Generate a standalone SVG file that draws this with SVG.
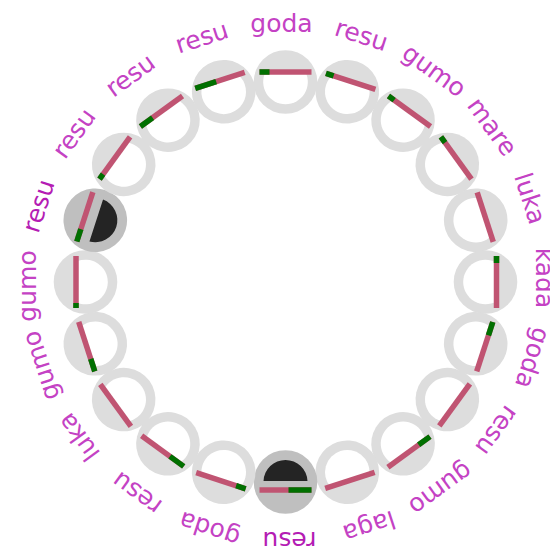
<svg xmlns="http://www.w3.org/2000/svg" width="550" height="550" viewBox="0 0 550 550">
<style>
.disk{fill:#dddddd}
.dk{fill:#bfbfbf}
.hole{fill:#ffffff}
.blk{fill:#242424}
.pk{stroke:#c05472;stroke-width:5.5;fill:none}
.gr{stroke:#007000;stroke-width:5.5;fill:none}
.lb{font-family:"DejaVu Sans",sans-serif;font-size:25px;fill:#c442c4;text-anchor:middle}
.hl{fill:#b41cb4}
</style>
<rect width="550" height="550" fill="#ffffff"/>
<g id="connectors"/>
<g id="n0" transform="rotate(0 285.5 282)"><g transform="translate(285.5 82)"><circle r="31.8" class="disk"/><path class="hole" d="M-19.93,-10 L19.93,-10 A22.3,22.3 0 1,1 -19.93,-10 Z"/><line class="pk" x1="-26" y1="-10" x2="26" y2="-10"/><line class="gr" x1="-26" y1="-10" x2="-16" y2="-10"/></g><text class="lb" x="281.5" y="32">goda</text></g>
<g id="n1" transform="rotate(18 285.5 282)"><g transform="translate(285.5 82)"><circle r="31.8" class="disk"/><path class="hole" d="M-19.4,-11 L19.4,-11 A22.3,22.3 0 1,1 -19.4,-11 Z"/><line class="pk" x1="-26" y1="-11" x2="26" y2="-11"/><line class="gr" x1="-26" y1="-11" x2="-18" y2="-11"/></g><text class="lb" x="281.5" y="32">resu</text></g>
<g id="n2" transform="rotate(36 285.5 282)"><g transform="translate(285.5 82)"><circle r="31.8" class="disk"/><path class="hole" d="M-19.4,-11 L19.4,-11 A22.3,22.3 0 1,1 -19.4,-11 Z"/><line class="pk" x1="-26" y1="-11" x2="26" y2="-11"/><line class="gr" x1="-26" y1="-11" x2="-19" y2="-11"/></g><text class="lb" x="281.5" y="32">gumo</text></g>
<g id="n3" transform="rotate(54 285.5 282)"><g transform="translate(285.5 82)"><circle r="31.8" class="disk"/><path class="hole" d="M-19.4,-11 L19.4,-11 A22.3,22.3 0 1,1 -19.4,-11 Z"/><line class="pk" x1="-26" y1="-11" x2="26" y2="-11"/><line class="gr" x1="-26" y1="-11" x2="-19" y2="-11"/></g><text class="lb" x="281.5" y="32">mare</text></g>
<g id="n4" transform="rotate(72 285.5 282)"><g transform="translate(285.5 82)"><circle r="31.8" class="disk"/><path class="hole" d="M-19.93,-10 L19.93,-10 A22.3,22.3 0 1,1 -19.93,-10 Z"/><line class="pk" x1="-26" y1="-10" x2="26" y2="-10"/></g><text class="lb" x="281.5" y="32">luka</text></g>
<g id="n5" transform="rotate(90 285.5 282)"><g transform="translate(285.5 82)"><circle r="31.8" class="disk"/><path class="hole" d="M-19.4,-11 L19.4,-11 A22.3,22.3 0 1,1 -19.4,-11 Z"/><line class="pk" x1="-26" y1="-11" x2="26" y2="-11"/><line class="gr" x1="-26" y1="-11" x2="-19" y2="-11"/></g><text class="lb" x="281.5" y="32">kada</text></g>
<g id="n6" transform="rotate(108 285.5 282)"><g transform="translate(285.5 82)"><circle r="31.8" class="disk"/><path class="hole" d="M-20.18,-9.5 L20.18,-9.5 A22.3,22.3 0 1,1 -20.18,-9.5 Z"/><line class="pk" x1="-26" y1="-9.5" x2="26" y2="-9.5"/><line class="gr" x1="-26" y1="-9.5" x2="-12" y2="-9.5"/></g><text class="lb" x="281.5" y="32">goda</text></g>
<g id="n7" transform="rotate(126 285.5 282)"><g transform="translate(285.5 82)"><circle r="31.8" class="disk"/><path class="hole" d="M-20.4,-9 L20.4,-9 A22.3,22.3 0 1,1 -20.4,-9 Z"/><line class="pk" x1="-26" y1="-9" x2="26" y2="-9"/></g><text class="lb" x="281.5" y="32">resu</text></g>
<g id="n8" transform="rotate(144 285.5 282)"><g transform="translate(285.5 82)"><circle r="31.8" class="disk"/><path class="hole" d="M-19.93,-10 L19.93,-10 A22.3,22.3 0 1,1 -19.93,-10 Z"/><line class="pk" x1="-26" y1="-10" x2="26" y2="-10"/><line class="gr" x1="-26" y1="-10" x2="-12" y2="-10"/></g><text class="lb" x="281.5" y="32">gumo</text></g>
<g id="n9" transform="rotate(162 285.5 282)"><g transform="translate(285.5 82)"><circle r="31.8" class="disk"/><path class="hole" d="M-20.62,-8.5 L20.62,-8.5 A22.3,22.3 0 1,1 -20.62,-8.5 Z"/><line class="pk" x1="-26" y1="-8.5" x2="26" y2="-8.5"/></g><text class="lb" x="281.5" y="32">laga</text></g>
<g id="n10" transform="rotate(180 285.5 282)"><g transform="translate(285.5 82)"><circle r="31.8" class="dk"/><path class="blk" d="M-21.98,1 L21.98,1 A22,22 0 0,1 -21.98,1 Z"/><line class="pk" x1="-26" y1="-8" x2="26" y2="-8"/><line class="gr" x1="-26" y1="-8" x2="-3" y2="-8"/></g><text class="lb hl" x="281.5" y="32">resu</text></g>
<g id="n11" transform="rotate(198 285.5 282)"><g transform="translate(285.5 82)"><circle r="31.8" class="disk"/><path class="hole" d="M-20.4,-9 L20.4,-9 A22.3,22.3 0 1,1 -20.4,-9 Z"/><line class="pk" x1="-26" y1="-9" x2="26" y2="-9"/><line class="gr" x1="-26" y1="-9" x2="-16" y2="-9"/></g><text class="lb" x="281.5" y="32">goda</text></g>
<g id="n12" transform="rotate(216 285.5 282)"><g transform="translate(285.5 82)"><circle r="31.8" class="disk"/><path class="hole" d="M-20.4,-9 L20.4,-9 A22.3,22.3 0 1,1 -20.4,-9 Z"/><line class="pk" x1="-26" y1="-9" x2="26" y2="-9"/><line class="gr" x1="-26" y1="-9" x2="-9" y2="-9"/></g><text class="lb" x="281.5" y="32">resu</text></g>
<g id="n13" transform="rotate(234 285.5 282)"><g transform="translate(285.5 82)"><circle r="31.8" class="disk"/><path class="hole" d="M-19.93,-10 L19.93,-10 A22.3,22.3 0 1,1 -19.93,-10 Z"/><line class="pk" x1="-26" y1="-10" x2="26" y2="-10"/></g><text class="lb" x="281.5" y="32">luka</text></g>
<g id="n14" transform="rotate(252 285.5 282)"><g transform="translate(285.5 82)"><circle r="31.8" class="disk"/><path class="hole" d="M-20.4,-9 L20.4,-9 A22.3,22.3 0 1,1 -20.4,-9 Z"/><line class="pk" x1="-26" y1="-9" x2="26" y2="-9"/><line class="gr" x1="-26" y1="-9" x2="-13" y2="-9"/></g><text class="lb" x="281.5" y="32">gumo</text></g>
<g id="n15" transform="rotate(270 285.5 282)"><g transform="translate(285.5 82)"><circle r="31.8" class="disk"/><path class="hole" d="M-20.18,-9.5 L20.18,-9.5 A22.3,22.3 0 1,1 -20.18,-9.5 Z"/><line class="pk" x1="-26" y1="-9.5" x2="26" y2="-9.5"/><line class="gr" x1="-26" y1="-9.5" x2="-21" y2="-9.5"/></g><text class="lb" x="281.5" y="32">gumo</text></g>
<g id="n16" transform="rotate(288 285.5 282)"><g transform="translate(285.5 82)"><circle r="31.8" class="dk"/><path class="blk" d="M-21.98,1 L21.98,1 A22,22 0 0,1 -21.98,1 Z"/><line class="pk" x1="-26" y1="-11" x2="26" y2="-11"/><line class="gr" x1="-26" y1="-11" x2="-13" y2="-11"/></g><text class="lb hl" x="281.5" y="32">resu</text></g>
<g id="n17" transform="rotate(306 285.5 282)"><g transform="translate(285.5 82)"><circle r="31.8" class="disk"/><path class="hole" d="M-19.4,-11 L19.4,-11 A22.3,22.3 0 1,1 -19.4,-11 Z"/><line class="pk" x1="-26" y1="-11" x2="26" y2="-11"/><line class="gr" x1="-26" y1="-11" x2="-20" y2="-11"/></g><text class="lb" x="281.5" y="32">resu</text></g>
<g id="n18" transform="rotate(324 285.5 282)"><g transform="translate(285.5 82)"><circle r="31.8" class="disk"/><path class="hole" d="M-19.4,-11 L19.4,-11 A22.3,22.3 0 1,1 -19.4,-11 Z"/><line class="pk" x1="-26" y1="-11" x2="26" y2="-11"/><line class="gr" x1="-26" y1="-11" x2="-11" y2="-11"/></g><text class="lb" x="281.5" y="32">resu</text></g>
<g id="n19" transform="rotate(342 285.5 282)"><g transform="translate(285.5 82)"><circle r="31.8" class="disk"/><path class="hole" d="M-18.8,-12 L18.8,-12 A22.3,22.3 0 1,1 -18.8,-12 Z"/><line class="pk" x1="-26" y1="-12" x2="26" y2="-12"/><line class="gr" x1="-26" y1="-12" x2="-4" y2="-12"/></g><text class="lb" x="281.5" y="32">resu</text></g>
</svg>
